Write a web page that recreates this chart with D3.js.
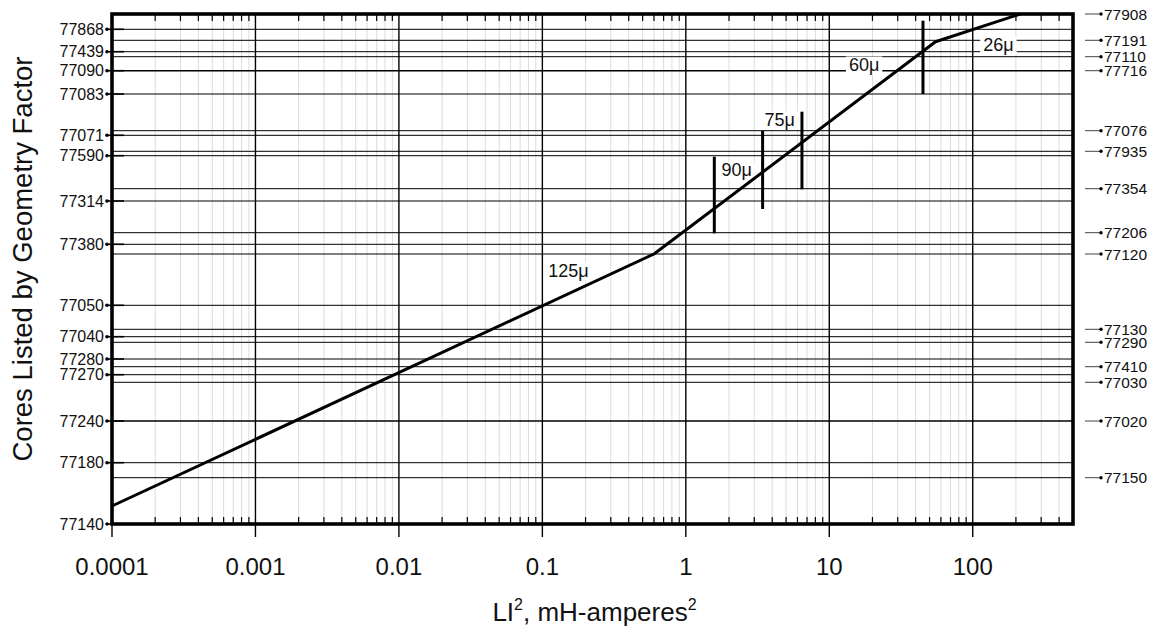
<!DOCTYPE html>
<html>
<head>
<meta charset="utf-8">
<script src="https://cdn.jsdelivr.net/npm/d3@7/dist/d3.min.js"></script>
<style>
  html, body { margin: 0; padding: 0; background: #fff; }
  svg { display: block; font-family: "Liberation Sans", Arial, Helvetica, sans-serif; }
</style>
</head>
<body>
<svg id="chart" width="1159" height="633"></svg>
<script>
// ---------------- data ----------------
const xTicks = [0.0001, 0.001, 0.01, 0.1, 1, 10, 100];
const xTickLabels = ["0.0001", "0.001", "0.01", "0.1", "1", "10", "100"];

// left-side cores (label) and their position on the geometry-factor scale (relative level)
const leftCores  = ["77868","77439","77090","77083","77071","77590","77314","77380","77050","77040","77280","77270","77240","77180","77140"];
const leftLevels = [494.7, 472.3, 453.3, 430, 388.7, 368.3, 323, 279.7, 218.7, 187.3, 165, 149.3, 103, 61.3, 0];

// right-side cores
const rightCores  = ["77908","77191","77110","77716","77076","77935","77354","77206","77120","77130","77290","77410","77030","77020","77150"];
const rightLevels = [510, 483.7, 467.3, 453.3, 393.3, 372.7, 335.3, 291.3, 270, 194.7, 181.7, 157.3, 141.7, 103, 46.3];

// selection curve
const curveLI2   = [0.0001, 0.6, 55, 215];
const curveLevel = [18, 270, 482.3, 510];

// permeability boundary markers
const markerLI2    = [1.58, 3.43, 6.45, 45];
const markerTop    = [367.3, 393, 412.3, 503.3];
const markerBottom = [290.7, 315, 334.7, 430];

// permeability region labels
const permLabels = ["125\u03bc", "90\u03bc", "75\u03bc", "60\u03bc", "26\u03bc"];
const permLI2    = [0.152, 2.26, 4.52, 17.5, 151];
const permLevel  = [253.3, 354, 404, 459, 479];

const levelDomain = [0, 510];
const xDomain = [0.0001, 500];

// ---------------- layout ----------------
const svg = d3.select("#chart");
const L = 112, R = 1073, T = 14, B = 524;

const x = d3.scaleLog().domain(xDomain).range([L, R]);
const y = d3.scaleLinear().domain(levelDomain).range([B, T]);

// minor grid values
const minorVals = [];
for (let e = -4; e <= 2; e++) {
  for (let m = 2; m <= 9; m++) {
    const v = m * Math.pow(10, e);
    if (v < xDomain[1]) minorVals.push(v);
  }
}

const g = svg.append("g");

// minor vertical grid
g.append("g").selectAll("line").data(minorVals).join("line")
  .attr("x1", d => x(d)).attr("x2", d => x(d))
  .attr("y1", T).attr("y2", B)
  .attr("stroke", "#dcdcdc").attr("stroke-width", 1);

// horizontal core lines
const allLevels = Array.from(new Set(leftLevels.concat(rightLevels))).filter(v => v > levelDomain[0] && v < levelDomain[1]);
const bothLevels = leftLevels.filter(v => rightLevels.includes(v));
g.append("g").selectAll("line").data(allLevels).join("line")
  .attr("x1", L).attr("x2", R)
  .attr("y1", d => y(d)).attr("y2", d => y(d))
  .attr("stroke", "#000")
  .attr("stroke-width", d => bothLevels.includes(d) ? 1.6 : 1);

// major vertical grid + outward ticks
g.append("g").selectAll("line").data(xTicks).join("line")
  .attr("x1", d => x(d)).attr("x2", d => x(d))
  .attr("y1", T).attr("y2", B + 13)
  .attr("stroke", "#000").attr("stroke-width", 1.4);

// minor ticks (top and bottom, inward)
const mt = g.append("g");
mt.selectAll("line.b").data(minorVals).join("line").attr("class", "b")
  .attr("x1", d => x(d)).attr("x2", d => x(d))
  .attr("y1", B - 7).attr("y2", B)
  .attr("stroke", "#000").attr("stroke-width", 1.2);
mt.selectAll("line.t").data(minorVals).join("line").attr("class", "t")
  .attr("x1", d => x(d)).attr("x2", d => x(d))
  .attr("y1", T).attr("y2", T + 7)
  .attr("stroke", "#000").attr("stroke-width", 1.2);

// permeability labels with white boxes
const lab = g.append("g");
permLabels.forEach((t, i) => {
  const txt = lab.append("text")
    .attr("x", x(permLI2[i])).attr("y", y(permLevel[i]))
    .attr("text-anchor", "middle").attr("dy", "0.36em")
    .attr("font-size", 18).attr("fill", "#111").text(t);
  const bb = txt.node().getBBox();
  lab.insert("rect", "text")
    .attr("x", bb.x - 3).attr("y", bb.y + 1)
    .attr("width", bb.width + 6).attr("height", bb.height - 2)
    .attr("fill", "#fff");
});

// markers
g.append("g").selectAll("line").data(markerLI2).join("line")
  .attr("x1", d => x(d)).attr("x2", d => x(d))
  .attr("y1", (d, i) => y(markerTop[i])).attr("y2", (d, i) => y(markerBottom[i]))
  .attr("stroke", "#000").attr("stroke-width", 3);

// curve
const pts = curveLI2.map((v, i) => [v, curveLevel[i]]);
g.append("path").datum(pts)
  .attr("d", d3.line().x(d => x(d[0])).y(d => y(d[1])))
  .attr("fill", "none").attr("stroke", "#000").attr("stroke-width", 3)
  .attr("stroke-linejoin", "round");

// plot border
g.append("rect").attr("x", L).attr("y", T).attr("width", R - L).attr("height", B - T)
  .attr("fill", "none").attr("stroke", "#000").attr("stroke-width", 3.6);

// left labels with ticks
const la = g.append("g");
leftCores.forEach((c, i) => {
  const yy = y(leftLevels[i]);
  la.append("line").attr("x1", L - 5).attr("x2", L + 12).attr("y1", yy).attr("y2", yy)
    .attr("stroke", "#000").attr("stroke-width", 1.6);
  la.append("circle").attr("cx", L - 5).attr("cy", yy).attr("r", 1.8).attr("fill", "#000");
  la.append("text").attr("x", L - 8).attr("y", yy).attr("dy", "0.36em")
    .attr("text-anchor", "end").attr("font-size", 16).attr("fill", "#111").text(c);
});

// right labels with arrows
const ra = g.append("g");
rightCores.forEach((c, i) => {
  const yy = y(rightLevels[i]);
  ra.append("line").attr("x1", R + 12).attr("x2", R + 28).attr("y1", yy).attr("y2", yy)
    .attr("stroke", "#444").attr("stroke-width", 1);
  ra.append("circle").attr("cx", R + 28).attr("cy", yy).attr("r", 1.7).attr("fill", "#000");
  ra.append("text").attr("x", R + 31).attr("y", yy).attr("dy", "0.36em")
    .attr("text-anchor", "start").attr("font-size", 15.5).attr("fill", "#111").text(c);
});

// x tick labels
g.append("g").selectAll("text").data(xTicks).join("text")
  .attr("x", d => x(d)).attr("y", 575)
  .attr("text-anchor", "middle").attr("font-size", 24).attr("fill", "#111")
  .text((d, i) => xTickLabels[i]);

// x title
const xt = svg.append("text").attr("x", (L + R) / 2 + 2).attr("y", 621)
  .attr("text-anchor", "middle").attr("font-size", 26).attr("fill", "#111");
xt.append("tspan").text("LI");
xt.append("tspan").attr("font-size", 16).attr("dy", -11).text("2");
xt.append("tspan").attr("dy", 11).text(", mH-amperes");
xt.append("tspan").attr("font-size", 16).attr("dy", -11).text("2");

// y title
svg.append("text")
  .attr("transform", `translate(32,${(T + B) / 2 - 10}) rotate(-90)`)
  .attr("text-anchor", "middle").attr("font-size", 27.5).attr("fill", "#111")
  .text("Cores Listed by Geometry Factor");
</script>
</body>
</html>
